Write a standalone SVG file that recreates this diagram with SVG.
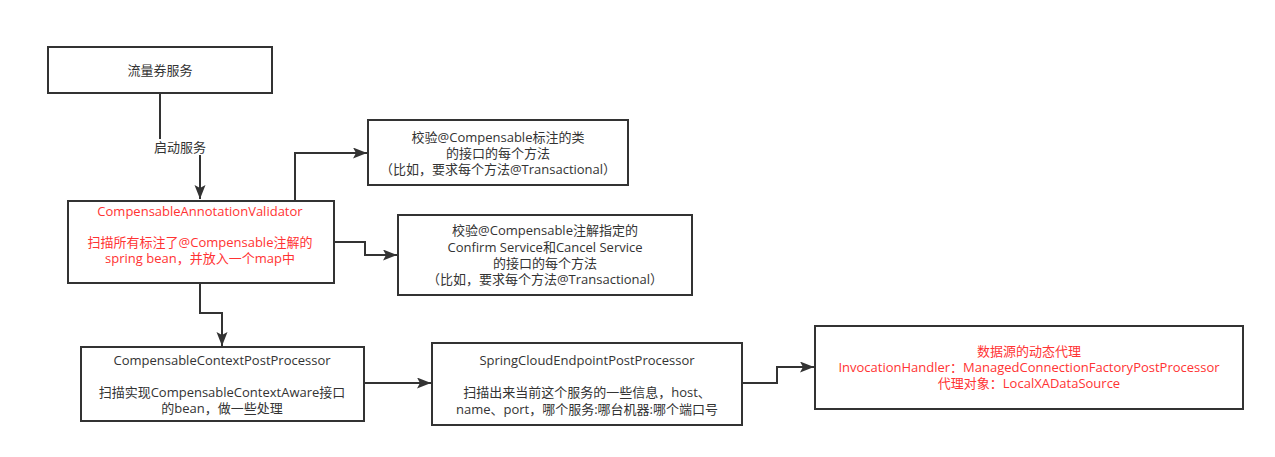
<svg xmlns="http://www.w3.org/2000/svg" width="1275" height="457" viewBox="0 0 1275 457">
<style>
.box{fill:#fff;stroke:#333;stroke-width:2}
.t{font-family:"Open Sans","Noto Sans CJK SC",sans-serif;font-size:13px;fill:#333;text-anchor:middle;dominant-baseline:central}
.r{fill:#ff3333}
.c{fill:none;stroke:#333;stroke-width:2}
</style>
<defs>
<marker id="arr" markerUnits="userSpaceOnUse" markerWidth="16" markerHeight="12" refX="14" refY="5.5" orient="auto">
<path d="M0,0 L14,5.5 L0,11 L3,5.5 z" fill="#333"/>
</marker>
</defs>
<rect width="1275" height="457" fill="#fff"/>
<g id="connectors">
<path class="c" d="M160,93 V147 H200 V199" marker-end="url(#arr)"/>
<rect x="152" y="139" width="56" height="16" fill="#fff"/>
<text class="t" x="180" y="147">启动服务</text>
<path class="c" d="M295,201 V153 H367" marker-end="url(#arr)"/>
<path class="c" d="M334,242 H365 V255 H397" marker-end="url(#arr)"/>
<path class="c" d="M200,283 V313 H222 V346" marker-end="url(#arr)"/>
<path class="c" d="M364,383 H431" marker-end="url(#arr)"/>
<path class="c" d="M742,383 H777 V367 H814" marker-end="url(#arr)"/>
</g>
<g id="n1">
<rect class="box" x="48" y="47" width="224" height="46"/>
<text class="t" x="160" y="70">流量券服务</text>
</g>
<g id="n2">
<rect class="box" x="68" y="201" width="266" height="82"/>
<text class="t r" x="200" y="211">CompensableAnnotationValidator</text>
<text class="t r" x="200" y="242">扫描所有标注了@Compensable注解的</text>
<text class="t r" x="200" y="258">spring bean，并放入一个map中</text>
</g>
<g id="n3">
<rect class="box" x="368" y="120" width="260" height="65"/>
<text class="t" x="498" y="137">校验@Compensable标注的类</text>
<text class="t" x="498" y="153">的接口的每个方法</text>
<text class="t" x="498" y="169">（比如，要求每个方法@Transactional）</text>
</g>
<g id="n4">
<rect class="box" x="398" y="215" width="294" height="80"/>
<text class="t" x="545" y="230">校验@Compensable注解指定的</text>
<text class="t" x="545" y="247">Confirm Service和Cancel Service</text>
<text class="t" x="545" y="263">的接口的每个方法</text>
<text class="t" x="545" y="279">（比如，要求每个方法@Transactional）</text>
</g>
<g id="n5">
<rect class="box" x="81" y="347" width="283" height="74"/>
<text class="t" x="222" y="360">CompensableContextPostProcessor</text>
<text class="t" x="222" y="392">扫描实现CompensableContextAware接口</text>
<text class="t" x="222" y="408">的bean，做一些处理</text>
</g>
<g id="n6">
<rect class="box" x="432" y="343" width="310" height="82"/>
<text class="t" x="587" y="360">SpringCloudEndpointPostProcessor</text>
<text class="t" x="587" y="392">扫描出来当前这个服务的一些信息，host、</text>
<text class="t" x="587" y="409">name、port，哪个服务:哪台机器:哪个端口号</text>
</g>
<g id="n7">
<rect class="box" x="815" y="326" width="428" height="83"/>
<text class="t r" x="1029" y="351">数据源的动态代理</text>
<text class="t r" x="1029" y="367">InvocationHandler：ManagedConnectionFactoryPostProcessor</text>
<text class="t r" x="1029" y="383">代理对象：LocalXADataSource</text>
</g>
</svg>
